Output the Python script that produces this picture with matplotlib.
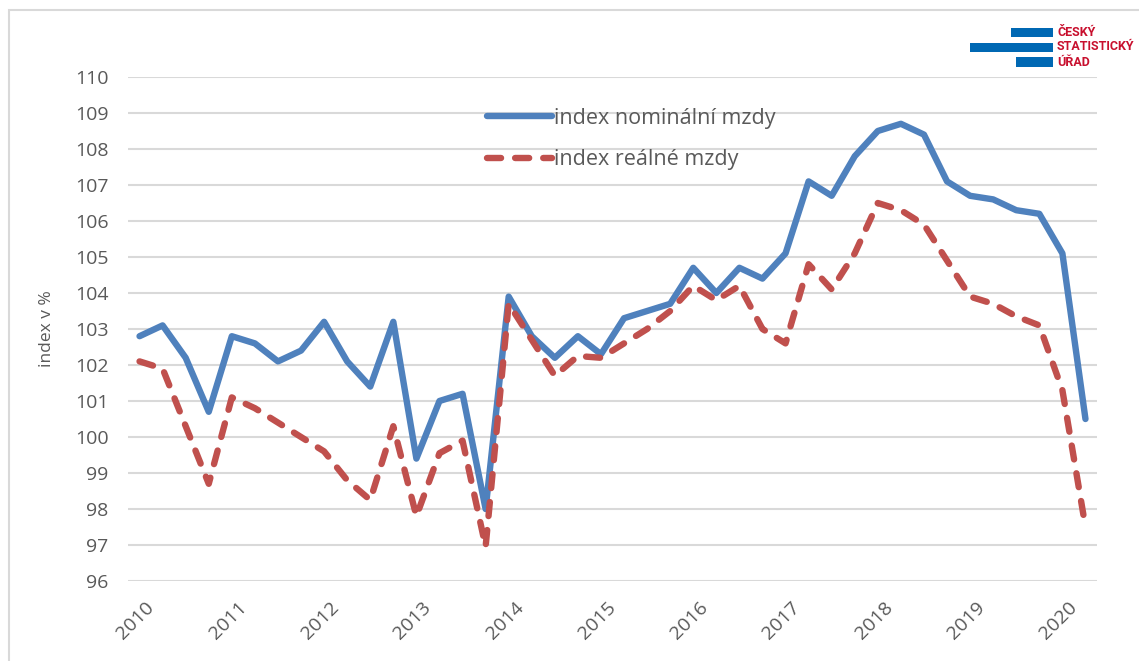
import matplotlib
matplotlib.use("Agg")
import matplotlib.pyplot as plt
import matplotlib.transforms as mtransforms
from matplotlib.patches import Rectangle

# quarterly year-on-year indices, 2010 Q1 .. 2020 Q2
years = ["2010", "2011", "2012", "2013", "2014", "2015",
         "2016", "2017", "2018", "2019", "2020"]
nominal = [102.8, 103.1, 102.2, 100.7, 102.8, 102.6, 102.1, 102.4,
           103.2, 102.1, 101.4, 103.2, 99.4, 101.0, 101.2, 98.0,
           103.9, 102.8, 102.2, 102.8, 102.3, 103.3, 103.5, 103.7,
           104.7, 104.0, 104.7, 104.4, 105.1, 107.1, 106.7, 107.8,
           108.5, 108.7, 108.4, 107.1, 106.7, 106.6, 106.3, 106.2,
           105.1, 100.5]
real = [102.1, 101.9, 100.3, 98.7, 101.1, 100.8, 100.4, 100.0,
        99.6, 98.8, 98.25, 100.3, 97.8, 99.55, 99.9, 96.95,
        103.7, 102.7, 101.7, 102.25, 102.2, 102.6, 103.0, 103.5,
        104.2, 103.8, 104.2, 103.0, 102.6, 104.8, 104.1, 105.1,
        106.5, 106.3, 105.9, 104.9, 103.9, 103.7, 103.35, 103.1,
        101.3, 97.5]
labels = ["index nominální mzdy", "index reálné mzdy"]

W, H = 1139, 661
plt.rcParams['font.family'] = ['Open Sans', 'DejaVu Sans']
fig = plt.figure(figsize=(W / 100, H / 100), dpi=100)


def fx(px):
    return px / W


def fy(py):
    return 1 - py / H


ax = fig.add_axes([fx(128), fy(581), fx(1097) - fx(128), fy(77) - fy(581)])

x = list(range(len(nominal)))
ax.plot(x, nominal, color="#4F81BD", lw=4.6, solid_capstyle="round",
        solid_joinstyle="round", label=labels[0], zorder=3)
ax.plot(x, real, color="#C0504D", lw=4.6, linestyle=(0, (2.2, 2.2)),
        dash_capstyle="round", dash_joinstyle="round", label=labels[1], zorder=4)

ax.set_xlim(-0.5, len(nominal) - 0.5)
ax.set_ylim(96, 110)
ax.set_yticks(range(96, 111))
ax.set_xticks(range(0, len(nominal), 4))
ax.set_xticklabels(years, rotation=45, ha="right", va="center",
                   rotation_mode="anchor")
ax.tick_params(axis="both", length=0, labelsize=14, labelcolor="#595959")
ax.tick_params(axis="x", pad=12)
ax.tick_params(axis="y", pad=14)
# nudge the rotated year labels like Excel does
shift = mtransforms.ScaledTranslation(12 / 100, -7 / 100, fig.dpi_scale_trans)
for lab in ax.get_xticklabels():
    lab.set_transform(lab.get_transform() + shift)
ax.grid(axis="y", color="#D9D9D9", lw=1.5)
ax.set_axisbelow(True)
for s in ax.spines.values():
    s.set_visible(False)
ax.set_ylabel("index v %", fontsize=12.5, color="#595959", labelpad=14)

ax.legend(loc="upper left", bbox_to_anchor=(fx(487), fy(108)),
          bbox_transform=fig.transFigure, frameon=False, fontsize=15.5,
          handlelength=3.0, handletextpad=0.12, labelspacing=0.95,
          borderpad=0, borderaxespad=0, labelcolor="#595959")

# outer chart frame
fig.add_artist(Rectangle((fx(9), -0.1), 1.2, fy(10) + 0.1,
                         transform=fig.transFigure, fill=False,
                         edgecolor="#D9D9D9", lw=1.5))

# CSU logo
blue = "#0068B3"
for x0, y0, x1, y1 in [(1011, 28, 1053, 37), (970, 43, 1053, 52), (1016, 57, 1053, 67)]:
    fig.add_artist(Rectangle((fx(x0), fy(y1)), fx(x1) - fx(x0), fy(y0) - fy(y1),
                             transform=fig.transFigure, color=blue, lw=0))
for txt, yy in [("ČESKÝ", 33), ("STATISTICKÝ", 47), ("ÚŘAD", 62)]:
    fig.text(fx(1057), fy(yy), txt, color="#C8102E", fontsize=9,
             fontweight="bold", va="center", ha="left",
             family=["Roboto", "DejaVu Sans"])

fig.savefig("out.png", dpi=100, facecolor="white")
